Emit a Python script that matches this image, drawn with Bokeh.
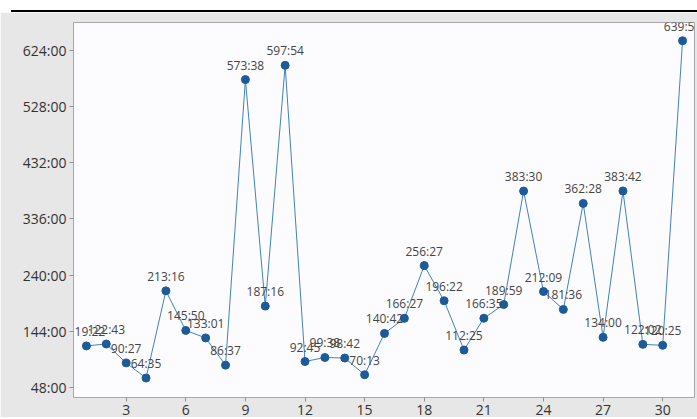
from bokeh.plotting import figure
from bokeh.models import ColumnDataSource, FixedTicker, Div, Range1d
from bokeh.layouts import column
from bokeh.core.properties import value
from bokeh.embed import file_html
from bokeh.resources import INLINE

days = list(range(1, 32))
time_labels = ["119:22", "122:43", "90:27", "64:35", "213:16", "145:50", "133:01",
               "86:37", "573:38", "187:16", "597:54", "92:45", "99:38", "98:42",
               "70:13", "140:42", "166:27", "256:27", "196:22", "112:25", "166:35",
               "189:59", "383:30", "212:09", "181:36", "362:28", "134:00", "383:42",
               "122:02", "120:25", "639:53"]
x_ticks = [3, 6, 9, 12, 15, 18, 21, 24, 27, 30]
y_ticks = [48, 144, 240, 336, 432, 528, 624]
y_tick_labels = ["48:00", "144:00", "240:00", "336:00", "432:00", "528:00", "624:00"]

hours = [int(t.split(":")[0]) + int(t.split(":")[1]) / 60 for t in time_labels]
src = ColumnDataSource(dict(x=days, y=hours, lab=time_labels))

p = figure(width=697, height=405, output_backend="svg", toolbar_location=None,
           x_range=Range1d(0.35, 31.6), y_range=Range1d(31.4, 671),
           min_border_left=73, min_border_right=3, min_border_top=10, min_border_bottom=14,
           margin=(0, 0, 0, 0))
p.background_fill_color = "#fcfcfe"
p.border_fill_color = "#e7e7e7"
p.outline_line_color = "#a8a8a8"
p.grid.visible = False

p.line("x", "y", source=src, line_color="#3f82bd", line_width=1)
p.scatter("x", "y", source=src, size=8, fill_color="#1c5b98", line_color="#1c5b98")
p.text("x", "y", text="lab", source=src, y_offset=-6, text_align="center",
       text_baseline="bottom", text_font=value("Open Sans"), text_font_size="12px",
       text_color="#454545")

for ax in (p.xaxis[0], p.yaxis[0]):
    ax.axis_line_color = None
    ax.major_tick_line_color = "#909090"
    ax.minor_tick_line_color = None
    ax.major_tick_out = 4
    ax.major_tick_in = 0
    ax.major_label_text_font = "Open Sans"
    ax.major_label_text_font_size = "14px"
    ax.major_label_text_color = "#333333"
    ax.major_label_standoff = 3

p.xaxis.ticker = FixedTicker(ticks=x_ticks)
p.yaxis.ticker = FixedTicker(ticks=y_ticks)
p.yaxis.major_label_overrides = {t: l for t, l in zip(y_ticks, y_tick_labels)}

bar = Div(text="", width=686, height=2, margin=(10, 0, 0, 11),
          styles={"background-color": "black"})
layout = column(bar, p, spacing=0)

open("out.html", "w").write(file_html(layout, INLINE))
